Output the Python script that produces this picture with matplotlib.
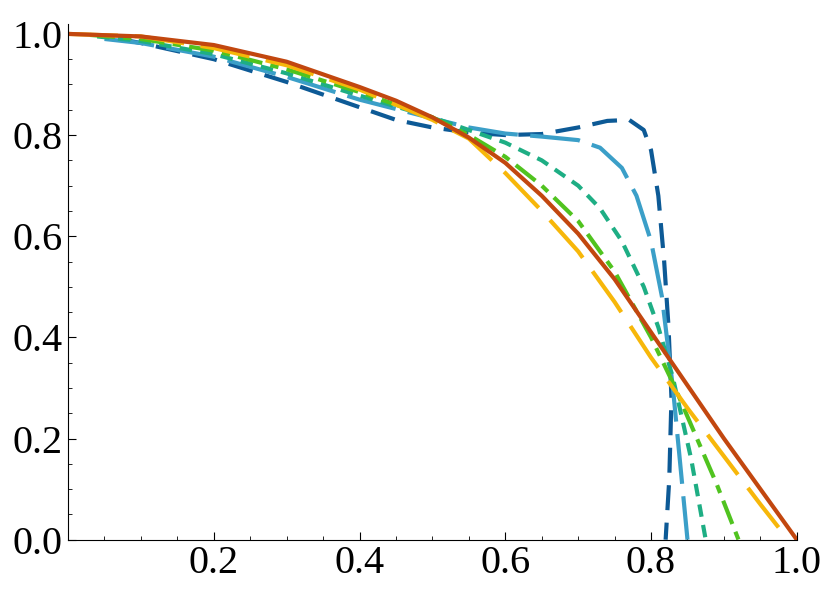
import numpy as np
import matplotlib.pyplot as plt
from matplotlib.ticker import MultipleLocator

plt.rcParams['font.family'] = ['Liberation Serif', 'DejaVu Serif']

# curves (x, y)
red_x = [0.0, 0.1, 0.2, 0.3, 0.4, 0.45, 0.5, 0.55, 0.6, 0.65, 0.7, 0.75, 0.8, 0.85, 0.9, 0.95, 1.0]
red_y = [1.0, 0.995, 0.978, 0.945, 0.895, 0.868, 0.835, 0.795, 0.745, 0.68, 0.605, 0.515, 0.41, 0.305, 0.2, 0.1, 0.0]

orange_x = [0.0, 0.1, 0.2, 0.3, 0.4, 0.5, 0.55, 0.6, 0.65, 0.7, 0.75, 0.8, 0.85, 0.9, 0.95, 0.98]
orange_y = [1.0, 0.995, 0.972, 0.938, 0.89, 0.83, 0.793, 0.725, 0.65, 0.57, 0.47, 0.36, 0.26, 0.165, 0.07, 0.015]

green_x = [0.03, 0.1, 0.2, 0.3, 0.4, 0.5, 0.55, 0.6, 0.65, 0.7, 0.75, 0.8, 0.83, 0.86, 0.89, 0.92]
green_y = [0.998, 0.99, 0.967, 0.93, 0.885, 0.835, 0.8, 0.757, 0.7, 0.63, 0.53, 0.4, 0.31, 0.21, 0.11, 0.0]

teal_x = [0.04, 0.1, 0.2, 0.3, 0.4, 0.5, 0.55, 0.6, 0.65, 0.7, 0.73, 0.76, 0.79, 0.81, 0.83, 0.855, 0.875]
teal_y = [0.995, 0.986, 0.96, 0.922, 0.878, 0.835, 0.81, 0.785, 0.75, 0.7, 0.655, 0.59, 0.5, 0.42, 0.32, 0.16, 0.0]

lblue_x = [0.05, 0.1, 0.2, 0.3, 0.4, 0.5, 0.55, 0.6, 0.65, 0.7, 0.73, 0.76, 0.78, 0.8, 0.815, 0.83, 0.84, 0.85]
lblue_y = [0.99, 0.982, 0.955, 0.915, 0.87, 0.833, 0.815, 0.803, 0.797, 0.79, 0.775, 0.735, 0.68, 0.59, 0.48, 0.3, 0.15, 0.0]

dblue_x = [0.07, 0.1, 0.2, 0.3, 0.4, 0.45, 0.5, 0.55, 0.6, 0.65, 0.7, 0.74, 0.77, 0.79, 0.8, 0.81, 0.818, 0.824, 0.828, 0.825, 0.82]
dblue_y = [0.99, 0.982, 0.95, 0.905, 0.855, 0.83, 0.815, 0.805, 0.8, 0.802, 0.815, 0.828, 0.83, 0.81, 0.77, 0.68, 0.55, 0.42, 0.28, 0.12, 0.0]

fig = plt.figure(figsize=(8.3, 5.95), dpi=100)
ax = fig.add_axes([0.082, 0.093, 0.878, 0.867])

ax.plot(dblue_x, dblue_y, color='#0d5a96', lw=3, dashes=(6, 3))
ax.plot(lblue_x, lblue_y, color='#3b9fc8', lw=3, dashes=(12, 3))
ax.plot(teal_x, teal_y, color='#1eae84', lw=3, dashes=(3, 2))
ax.plot(green_x, green_y, color='#50c31f', lw=3, dashes=(6, 2, 2, 2))
ax.plot(orange_x, orange_y, color='#f7b70a', lw=3, dashes=(12, 4))
ax.plot(red_x, red_y, color='#c2470f', lw=3)

ax.set_xlim(0, 1.0)
ax.set_ylim(0, 1.02)
ax.spines['top'].set_visible(False)
ax.spines['right'].set_visible(False)
ax.set_xticks([0.2, 0.4, 0.6, 0.8, 1.0])
ax.set_yticks([0.0, 0.2, 0.4, 0.6, 0.8, 1.0])
ax.xaxis.set_minor_locator(MultipleLocator(0.05))
ax.yaxis.set_minor_locator(MultipleLocator(0.05))
ax.tick_params(labelsize=29, direction='in', length=6, pad=4)
ax.tick_params(which='minor', direction='in', length=3)
ax.xaxis.set_major_formatter(plt.FuncFormatter(lambda v, p: f'{v:.1f}'))
ax.yaxis.set_major_formatter(plt.FuncFormatter(lambda v, p: f'{v:.1f}'))

plt.savefig('out.png', dpi=100)
